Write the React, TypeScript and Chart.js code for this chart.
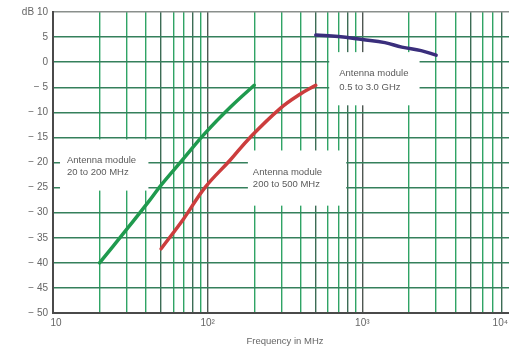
import React, { useEffect, useRef } from "react";
import { Chart, registerables } from "chart.js";

Chart.register(...registerables);

// ---- data ----
const greenFreq = [20, 30, 42, 50, 70, 96, 140, 200];
const greenDb = [-40, -33.3, -27.6, -24.5, -19.2, -14.2, -9.0, -4.6];

const redFreq = [50, 70, 96, 140, 188, 295, 400, 500];
const redDb = [-37.2, -31.2, -25, -19.5, -15, -9.2, -6.3, -4.6];

const blueFreq = [500, 700, 1000, 1400, 1800, 2400, 3000];
const blueDb = [5.4, 5.1, 4.5, 3.9, 3.0, 2.3, 1.4];

const yTicks = [-50, -45, -40, -35, -30, -25, -20, -15, -10, -5, 0, 5, 10];
const xGrid = [
  10, 20, 30, 40, 50, 60, 70, 80, 90,
  100, 200, 300, 400, 500, 600, 700, 800, 900,
  1000, 2000, 3000, 4000, 5000, 6000, 7000, 8000, 9000, 10000,
];
const xLabelValues = [10, 100, 1000, 10000];
const xLabelTexts = ["10", "10\u00B2", "10\u00B3", "10\u2074"];

const labelLines = [
  ["Antenna module", "20 to 200 MHz"],
  ["Antenna module", "200 to 500 MHz"],
  ["Antenna module", "0.5 to 3.0 GHz"],
];
// boxes in data units: [xFrom, xTo, yTop, yBottom], text anchor [x, y1, y2]
const labelBoxes = [
  [11.1, 41.4, -15.4, -25.6],
  [182, 787, -17.6, -28.6],
  [611, 2344, 2, -8.6],
];
const labelAnchors = [
  [12.3, -19.6, -22],
  [196, -22, -24.4],
  [709, -2.2, -5],
];

const xTitle = "Frequency in MHz";
const VIEW_W = 509;
const FONT = "Liberation Sans, Arial, sans-serif";

export default function App() {
  const ref = useRef<HTMLCanvasElement | null>(null);

  useEffect(() => {
    if (!ref.current) return;

    const overlay = {
      id: "overlay",
      beforeDatasetsDraw(chart: any) {
        const ctx = chart.ctx;
        const xs = chart.scales.x;
        const ys = chart.scales.y;
        ctx.save();
        labelBoxes.forEach((b, i) => {
          const x0 = xs.getPixelForValue(b[0]);
          const x1 = xs.getPixelForValue(b[1]);
          const y0 = ys.getPixelForValue(b[2]);
          const y1 = ys.getPixelForValue(b[3]);
          ctx.fillStyle = "#ffffff";
          ctx.fillRect(x0, y0, x1 - x0, y1 - y0);
          const a = labelAnchors[i];
          ctx.fillStyle = "#5a5a5a";
          ctx.font = `9.5px ${FONT}`;
          ctx.textAlign = "left";
          ctx.textBaseline = "middle";
          ctx.fillText(labelLines[i][0], xs.getPixelForValue(a[0]), ys.getPixelForValue(a[1]));
          ctx.fillText(labelLines[i][1], xs.getPixelForValue(a[0]), ys.getPixelForValue(a[2]));
        });
        ctx.restore();
      },
      afterDraw(chart: any) {
        const ctx = chart.ctx;
        const xs = chart.scales.x;
        const area = chart.chartArea;
        ctx.save();
        ctx.fillStyle = "#666666";
        ctx.font = `10px ${FONT}`;
        ctx.textBaseline = "middle";
        ctx.textAlign = "center";
        xLabelValues.forEach((v, i) => {
          const t = xLabelTexts[i];
          const w = ctx.measureText(t).width;
          let px = xs.getPixelForValue(v);
          if (px + w / 2 > VIEW_W - 1) px = VIEW_W - 1 - w / 2;
          if (i === 0) px += 3;
          ctx.fillText(t, px, area.bottom + 10);
        });
        ctx.font = `9.5px ${FONT}`;
        ctx.fillText(xTitle, (area.left + area.right) / 2, area.bottom + 28);
        ctx.restore();
      },
    };

    const gridColor = (c: any) => {
      const v = c.tick ? c.tick.value : 0;
      const lg = Math.log10(v);
      if (Math.abs(lg - Math.round(lg)) < 1e-6) return "#4e5752";
      const lead = Math.round(v / Math.pow(10, Math.floor(lg)));
      if (lead === 5 || lead === 8) return "#3c6c55";
      return "#2fa465";
    };

    const lineStyle = {
      borderWidth: 3.5,
      pointRadius: 0,
      tension: 0.4,
      borderCapStyle: "round",
    };

    const chart = new Chart(ref.current, {
      type: "line",
      data: {
        datasets: [
          {
            data: greenFreq.map((f, i) => ({ x: f, y: greenDb[i] })),
            borderColor: "#1f9a4e",
            ...lineStyle,
          },
          {
            data: redFreq.map((f, i) => ({ x: f, y: redDb[i] })),
            borderColor: "#cc3d3d",
            ...lineStyle,
          },
          {
            data: blueFreq.map((f, i) => ({ x: f, y: blueDb[i] })),
            borderColor: "#3a2e7c",
            ...lineStyle,
          },
        ],
      },
      options: {
        responsive: false,
        animation: false,
        parsing: false as any,
        layout: { padding: { top: 12, right: 3, left: 0, bottom: 0 } },
        plugins: { legend: { display: false }, tooltip: { enabled: false } },
        scales: {
          x: {
            type: "logarithmic",
            min: 10,
            max: 10000,
            afterBuildTicks: (s: any) => {
              s.ticks = xGrid.map((v) => ({ value: v }));
            },
            afterFit: (s: any) => {
              s.height = 39;
            },
            ticks: { display: false },
            grid: { color: gridColor as any, lineWidth: 1.4, drawTicks: false },
            border: { color: "#4a4a4a", width: 2 },
          },
          y: {
            type: "linear",
            min: -50,
            max: 10,
            afterBuildTicks: (s: any) => {
              s.ticks = yTicks.map((v) => ({ value: v }));
            },
            afterFit: (s: any) => {
              s.width = 53;
            },
            ticks: {
              autoSkip: false,
              padding: 5,
              color: "#666666",
              font: { family: FONT, size: 10 },
              callback: (v: any) =>
                v === 10 ? "dB 10" : v < 0 ? "\u2212 " + -v : String(v),
            },
            grid: {
              color: (c: any) => (c.tick && c.tick.value === 10 ? "#8a8f8c" : "#35805c"),
              lineWidth: 1.4,
              drawTicks: false,
            },
            border: { color: "#4a4a4a", width: 2 },
          },
        },
      },
      plugins: [overlay],
    } as any);

    return () => chart.destroy();
  }, []);

  return (
    <div
      style={{
        position: "fixed",
        left: 0,
        top: 0,
        width: VIEW_W,
        height: 352,
        overflow: "hidden",
        background: "#ffffff",
      }}
    >
      <canvas ref={ref} width={520} height={352} style={{ display: "block" }} />
    </div>
  );
}
